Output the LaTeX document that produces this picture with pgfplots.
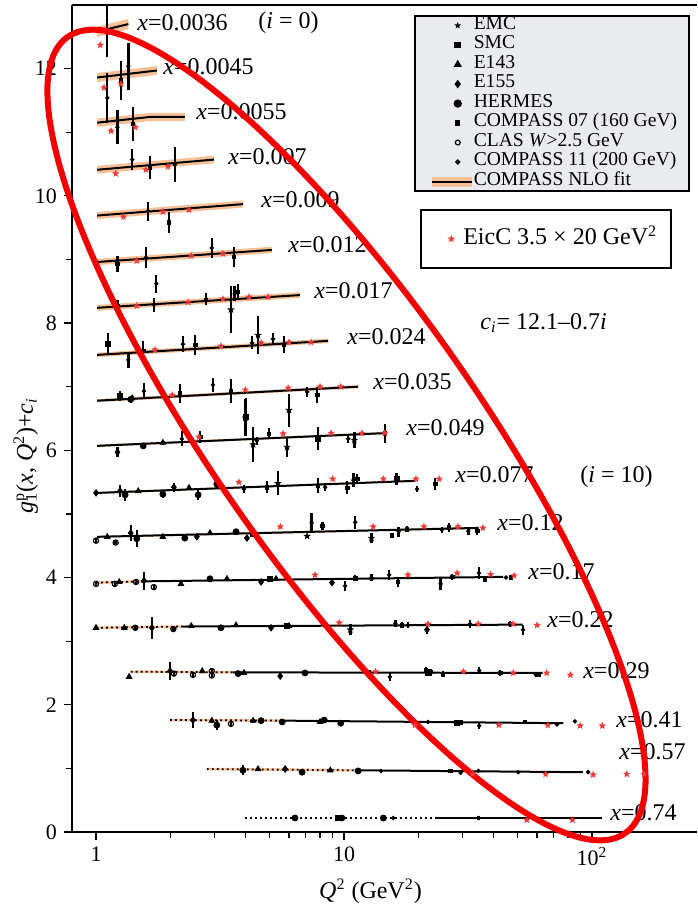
\documentclass[border=0pt]{standalone}
\usepackage{pgfplots}
\pgfplotsset{compat=1.18}
\usepackage{pgfplotstable}
\usepackage{fontspec}
\setmainfont{Liberation Serif}

\definecolor{bandor}{RGB}{247,192,150}
\definecolor{eicred}{RGB}{238,58,58}
\definecolor{leggray}{RGB}{234,235,239}
\definecolor{ellred}{RGB}{245,0,0}

\pgfdeclareplotmark{fstar}{%
 \pgfpathmoveto{\pgfpointpolar{90}{\pgfplotmarksize}}%
 \pgfpathlineto{\pgfpointpolar{126}{0.42\pgfplotmarksize}}%
 \pgfpathlineto{\pgfpointpolar{162}{\pgfplotmarksize}}%
 \pgfpathlineto{\pgfpointpolar{198}{0.42\pgfplotmarksize}}%
 \pgfpathlineto{\pgfpointpolar{234}{\pgfplotmarksize}}%
 \pgfpathlineto{\pgfpointpolar{270}{0.42\pgfplotmarksize}}%
 \pgfpathlineto{\pgfpointpolar{306}{\pgfplotmarksize}}%
 \pgfpathlineto{\pgfpointpolar{342}{0.42\pgfplotmarksize}}%
 \pgfpathlineto{\pgfpointpolar{18}{\pgfplotmarksize}}%
 \pgfpathlineto{\pgfpointpolar{54}{0.42\pgfplotmarksize}}%
 \pgfpathclose\pgfusepathqfill}

% COMPASS 11 (200 GeV)
\pgfplotstableread{
x y e
1.11 12.60 0.42
1.11 11.54 0.39
1.35 12.04 0.37
1.22 11.08 0.27
1.40 10.57 0.16
2.08 10.49 0.28
1.62 9.76 0.15
1.59 9.03 0.17
2.93 9.18 0.15
1.75 8.62 0.14
1.71 8.29 0.11
2.78 8.38 0.09
3.62 8.46 0.12
1.35 7.42 0.13
2.24 7.67 0.12
4.26 7.69 0.10
5.17 7.75 0.10
1.56 6.93 0.13
2.96 7.03 0.11
7.1 6.92 0.08
2.22 6.18 0.12
4.45 6.15 0.06
10.4 6.18 0.06
3.95 5.39 0.06
8.4 5.42 0.06
10.9 5.53 0.11
19.7 5.39 0.05
7.4 4.86 0.16
11.1 4.87 0.10
16.6 4.72 0.08
24.8 4.75 0.05
31.7 4.73 0.06
10.1 3.87 0.08
12.9 4.00 0.05
15.2 4.04 0.08
24.5 3.90 0.09
35.0 4.07 0.10
45.0 4.00 0.03
16.1 3.28 0.05
18.1 3.25 0.05
32.2 3.27 0.07
52.7 3.18 0.08
12.7 2.51 0.04
15.3 2.44 0.06
22.5 2.51 0.03
35.1 2.54 0.05
59.3 2.47 0.03
21.8 1.73 0.03
35.1 1.67 0.05
72.2 1.69 0.03
85.3 1.74 0.02
14.1 0.96 0.03
29.5 0.93 0.02
34.8 0.96 0.02
50.4 0.94 0.02
96.4 0.94 0.03
15.8 0.22 0.02
34.8 0.22 0.03
}\CXI

% COMPASS 07 (160 GeV)
\pgfplotstableread{
x y e
1.26 11.81 0.31
1.41 11.13 0.27
1.65 10.44 0.18
1.97 9.58 0.16
1.22 8.93 0.12
3.60 9.04 0.16
1.22 8.27 0.09
3.74 8.49 0.12
1.55 7.56 0.16
2.51 7.66 0.16
5.73 7.66 0.13
2.18 6.89 0.15
3.50 6.93 0.19
7.8 6.87 0.12
2.63 6.21 0.09
4.98 6.26 0.09
14.6 6.27 0.15
3.25 5.41 0.04
4.89 5.42 0.09
10.3 5.41 0.10
11.3 5.55 0.08
23.3 5.47 0.09
8.2 4.81 0.06
15.6 4.66 0.04
17.9 4.76 0.05
26.5 4.79 0.07
34.4 4.73 0.06
11.1 3.99 0.05
16.5 3.93 0.08
27.3 4.01 0.05
37.0 3.97 0.04
47.0 4.00 0.03
17.1 3.25 0.05
46.8 3.27 0.05
21.4 2.55 0.05
25.0 2.48 0.05
42.6 2.50 0.04
61.0 2.47 0.03
29.5 1.72 0.03
53.6 1.73 0.03
26.8 0.96 0.03
}\CVII

% EMC
\pgfplotstableread{
x y e
3.50 8.21 0.37
4.50 7.81 0.30
4.0 6.51 0.29
6.0 6.63 0.26
4.30 6.09 0.27
5.89 6.05 0.16
11.0 6.16 0.12
5.41 5.48 0.19
7.85 5.45 0.12
7.1 4.65 0.03
12.9 4.62 0.08
10.6 3.18 0.09
}\EMC

% SMC
\pgfplotstableread{
x y e
1.12 7.67 0.17
1.25 6.86 0.08
4.03 6.53 0.30
7.85 6.18 0.18
16.3 5.55 0.09
4.30 4.69 0.03
5.04 3.98 0.03
5.89 3.24 0.03
21.9 2.51 0.03
28.6 1.72 0.03
9.45 0.22 0.03
}\SMC

% E143
\pgfplotstableread{
x y e
1.40 6.82 0.04
1.86 6.12 0.04
1.48 5.36 0.03
2.37 5.41 0.03
1.11 4.64 0.03
1.86 4.64 0.03
2.88 4.70 0.03
1.24 3.93 0.03
2.20 3.90 0.03
3.37 3.98 0.03
5.32 3.98 0.03
1.00 3.21 0.03
1.30 3.21 0.03
2.42 3.24 0.03
3.67 3.25 0.03
6.00 3.24 0.03
1.36 2.44 0.03
2.68 2.53 0.03
3.95 2.50 0.03
2.93 1.75 0.03
4.30 1.75 0.03
8.0 1.73 0.03
4.50 0.99 0.03
8.8 0.97 0.03
}\Eonefourthree

% E155
\pgfplotstableread{
x y e
1.22 5.97 0.08
1.00 5.33 0.04
1.25 5.36 0.09
2.06 5.42 0.07
1.38 4.70 0.13
2.55 4.64 0.05
4.06 4.62 0.03
1.56 3.95 0.14
4.63 3.93 0.03
8.94 3.92 0.03
1.68 3.21 0.17
5.08 3.21 0.03
21.6 3.18 0.06
1.99 2.53 0.14
5.53 2.45 0.03
2.46 1.76 0.13
5.79 0.99 0.03
}\Eonefivefive

% HERMES
\pgfplotstableread{
x y e
1.38 6.80 0.05
1.55 6.07 0.05
1.31 5.30 0.09
1.86 5.31 0.06
2.58 5.30 0.08
3.07 5.47 0.06
1.46 4.61 0.13
2.28 4.62 0.05
3.67 4.72 0.04
2.88 3.98 0.04
3.19 3.21 0.04
3.74 2.49 0.04
6.96 2.50 0.04
3.07 1.68 0.08
4.63 1.75 0.04
5.63 1.73 0.04
8.32 1.76 0.04
9.7 1.71 0.04
3.91 0.97 0.08
6.77 0.94 0.04
11.4 0.96 0.04
6.34 0.22 0.03
9.8 0.22 0.03
14.4 0.22 0.03
}\HERMES

% CLAS W>2.5 GeV
\pgfplotstableread{
x y e
1.00 4.58 0.03
1.20 4.55 0.03
1.00 3.90 0.03
1.19 3.90 0.03
1.45 3.93 0.03
1.71 3.85 0.03
1.44 3.21 0.03
2.05 3.19 0.03
2.06 2.49 0.03
2.46 2.47 0.03
2.93 2.53 0.03
2.93 2.46 0.03
3.50 1.70 0.03
}\CLAS

% EicC pseudo-data
\pgfplotstableread{
x y
1.04 12.37
1.077 11.70
1.26 11.76
1.15 11.02
1.44 11.08
1.20 10.35
1.59 10.41
1.95 10.46
1.29 9.67
1.86 9.75
2.37 9.78
1.46 8.98
2.42 9.06
3.25 9.09
1.46 8.27
2.35 8.33
3.25 8.38
4.14 8.41
4.94 8.41
1.73 7.58
3.19 7.64
4.63 7.69
6.0 7.70
7.36 7.70
2.03 6.87
4.0 6.95
5.95 6.98
8.0 7.00
9.7 7.00
2.6 6.21
5.68 6.26
8.87 6.27
11.8 6.27
14.6 6.27
3.77 5.50
9.0 5.55
14.4 5.55
19.5 5.55
24.2 5.55
5.53 4.80
13.1 4.80
21.0 4.80
28.8 4.80
36.3 4.78
7.64 4.04
18.1 4.04
28.6 4.07
39.0 4.05
48.5 4.03
9.56 3.29
21.8 3.27
34.8 3.27
48.1 3.27
60.0 3.25
13.4 2.52
30.3 2.52
48.1 2.50
65.6 2.50
81.8 2.47
19.3 1.68
42.1 1.68
66.3 1.68
89.5 1.67
110 1.67
33.1 0.91
65.0 0.91
101 0.90
138 0.91
162 0.91
54.6 0.19
83.3 0.19
}\EicC

\pgfplotsset{
 dat/.style={only marks, black, forget plot,
   error bars/y dir=both, error bars/y explicit,
   error bars/error bar style={line width=1.2pt, black},
   error bars/error mark=none},
 band/.style={fill=bandor, draw=none, forget plot},
 fit/.style={black, line width=1pt, forget plot},
 dotor/.style={bandor, line width=1.3pt, forget plot},
 dotbk/.style={black, line width=0.9pt, dash pattern=on 0.9pt off 1.6pt, forget plot},
 eicimg/.style={legend image code/.code={\path[draw=none, fill=none] (0pt,0pt) -- (12pt,0pt); \draw[##1, only marks] plot coordinates {(8pt,0pt)};}},
}
\tikzset{lbl/.style={anchor=west, inner sep=0pt, font=\fontsize{12}{14}\selectfont}}

\begin{document}
\begin{tikzpicture}
\begin{axis}[name=ax, scale only axis, width=312.5pt, height=413.5pt,
  xmode=log, xmin=0.8, xmax=265, ymin=0, ymax=13,
  axis x line*=box, axis y line*=left,
  xtick pos=left, ytick pos=left, tick align=outside,
  xtick={1,10,100}, xticklabels={1,10,10\textsuperscript{2}},
  ytick={0,2,...,12}, minor y tick num=1,
  major tick length=4pt, minor tick length=3pt,
  axis line style={line width=1pt},
  every tick/.style={black, line width=0.6pt},
  /pgf/number format/assume math mode=true,
  tick label style={font=\fontsize{11}{13}\selectfont},
  xlabel={\textit{Q}\textsuperscript{2} (GeV\textsuperscript{2})},
  ylabel={\textit{g}\rlap{\textsuperscript{p}}\textsubscript{1}(\textit{x}, \textit{Q}\textsuperscript{2})+\textit{c}\textsubscript{\textit{i}}},
  label style={font=\fontsize{12}{14}\selectfont},
  xlabel style={xshift=-7pt},
  ylabel style={at={(axis description cs:-0.043,0.455)}, anchor=south},
  clip mode=individual,
  legend style={at={(0.989,0.988)}, anchor=north east, draw=black, line width=0.9pt,
    fill=leggray, inner xsep=6pt, inner ysep=0pt,
    font=\fontsize{9.8}{9.8}\selectfont,
    nodes={inner sep=0pt, text height=6.6pt, text depth=3.15pt},
    /tikz/every odd column/.append style={column sep=-5pt}},
  legend cell align=left,
]
% ---- NLO fit bands ----
\addplot[band] coordinates {(1.01,12.66) (1.35,12.78) (1.35,12.62) (1.01,12.50)} --cycle;
\addplot[band] coordinates {(1.01,11.93) (1.76,12.04) (1.76,11.90) (1.01,11.79)} --cycle;
\addplot[band] coordinates {(1.01,11.215) (1.65,11.305) (2.28,11.305) (2.28,11.175) (1.65,11.175) (1.01,11.085)} --cycle;
\addplot[band] coordinates {(1.01,10.47) (2.99,10.63) (2.99,10.51) (1.01,10.35)} --cycle;
\addplot[band] coordinates {(1.01,9.745) (3.92,9.925) (3.92,9.815) (1.01,9.635)} --cycle;
\addplot[band] coordinates {(1.01,9.01) (5.12,9.20) (5.12,9.10) (1.01,8.91)} --cycle;
\addplot[band] coordinates {(1.01,8.285) (6.64,8.485) (6.64,8.395) (1.01,8.195)} --cycle;
\addplot[band] coordinates {(1.01,7.535) (8.62,7.755) (8.62,7.685) (1.01,7.465)} --cycle;
\addplot[band] coordinates {(1.01,6.805) (11.4,7.025) (11.4,6.975) (1.01,6.755)} --cycle;
\addplot[band] coordinates {(1.01,6.088) (14.6,6.288) (14.6,6.252) (1.01,6.052)} --cycle;
\addplot[band] coordinates {(1.01,5.345) (19.4,5.535) (19.4,5.505) (1.01,5.315)} --cycle;
\addplot[band] coordinates {(1.01,4.655) (34.9,4.795) (34.9,4.765) (1.01,4.625)} --cycle;
% ---- NLO fit lines ----
\addplot[fit] coordinates {(1.01,12.58) (1.35,12.70)};
\addplot[fit] coordinates {(1.01,11.86) (1.76,11.97)};
\addplot[fit] coordinates {(1.01,11.15) (1.65,11.24) (2.28,11.24)};
\addplot[fit] coordinates {(1.01,10.41) (2.99,10.57)};
\addplot[fit] coordinates {(1.01,9.69) (3.92,9.87)};
\addplot[fit] coordinates {(1.01,8.96) (5.12,9.15)};
\addplot[fit] coordinates {(1.01,8.24) (6.64,8.44)};
\addplot[fit] coordinates {(1.01,7.50) (8.62,7.72)};
\addplot[fit] coordinates {(1.01,6.78) (11.4,7.00)};
\addplot[fit] coordinates {(1.01,6.07) (14.6,6.27)};
\addplot[fit] coordinates {(1.01,5.33) (19.4,5.52)};
\addplot[fit] coordinates {(1.01,4.64) (34.9,4.78)};
\addplot[dotor] coordinates {(1.0,3.92) (1.55,3.94)};
\addplot[dotbk] coordinates {(1.0,3.92) (1.55,3.94)};
\addplot[fit] coordinates {(1.55,3.94) (43.8,4.01)};
\addplot[dotor] coordinates {(1.0,3.21) (2.24,3.23)};
\addplot[dotbk] coordinates {(1.0,3.21) (2.24,3.23)};
\addplot[fit] coordinates {(2.24,3.23) (52.5,3.26)};
\addplot[dotor] coordinates {(1.38,2.52) (3.57,2.51)};
\addplot[dotbk] coordinates {(1.38,2.52) (3.57,2.51)};
\addplot[fit] coordinates {(3.57,2.51) (63.2,2.50)};
\addplot[dotor] coordinates {(1.99,1.76) (5.9,1.75)};
\addplot[dotbk] coordinates {(1.99,1.76) (5.9,1.75)};
\addplot[fit] coordinates {(5.9,1.75) (76.6,1.71)};
\addplot[dotor] coordinates {(2.80,0.99) (11.3,0.97)};
\addplot[dotbk] coordinates {(2.80,0.99) (11.3,0.97)};
\addplot[fit] coordinates {(11.3,0.97) (91.9,0.94)};
\addplot[dotbk] coordinates {(3.99,0.22) (23.6,0.22)};
\addplot[fit] coordinates {(23.6,0.22) (110,0.22)};
% ---- data ----
\addplot[dat, mark=*, mark size=0.9pt] table[x=x,y=y,y error=e] {\CXI};
\addplot[dat, mark=square*, mark size=0.9pt] table[x=x,y=y,y error=e] {\CVII};
\addplot[dat, mark=fstar, mark size=2pt] table[x=x,y=y,y error=e] {\EMC};
\addplot[dat, mark=square*, mark size=1.3pt] table[x=x,y=y,y error=e] {\SMC};
\addplot[dat, mark=triangle*, mark size=1.6pt] table[x=x,y=y,y error=e] {\Eonefourthree};
\addplot[dat, mark=diamond*, mark size=1.6pt] table[x=x,y=y,y error=e] {\Eonefivefive};
\addplot[dat, mark=*, mark size=1.5pt] table[x=x,y=y,y error=e] {\HERMES};
\addplot[dat, mark=o, mark size=1.3pt, mark options={line width=0.6pt}] table[x=x,y=y,y error=e] {\CLAS};
% ---- legend ----
\addlegendimage{legend image code/.code={\path[draw=none, fill=none] (0pt,0pt) -- (26pt,0pt); \path[draw=black, fill=black] plot[only marks, mark=fstar, mark size=1.8pt] coordinates {(13pt,0pt)};}}
\addlegendentry{EMC}
\addlegendimage{legend image code/.code={\path[draw=none, fill=none] (0pt,0pt) -- (26pt,0pt); \path[draw=black, fill=black] plot[only marks, mark=square*, mark size=1.2pt] coordinates {(13pt,0pt)};}}
\addlegendentry{SMC}
\addlegendimage{legend image code/.code={\path[draw=none, fill=none] (0pt,0pt) -- (26pt,0pt); \path[draw=black, fill=black] plot[only marks, mark=triangle*, mark size=1.5pt] coordinates {(13pt,0pt)};}}
\addlegendentry{E143}
\addlegendimage{legend image code/.code={\path[draw=none, fill=none] (0pt,0pt) -- (26pt,0pt); \path[draw=black, fill=black] plot[only marks, mark=diamond*, mark size=1.4pt] coordinates {(13pt,0pt)};}}
\addlegendentry{E155}
\addlegendimage{legend image code/.code={\path[draw=none, fill=none] (0pt,0pt) -- (26pt,0pt); \path[draw=black, fill=black] plot[only marks, mark=*, mark size=1.6pt] coordinates {(13pt,0pt)};}}
\addlegendentry{HERMES}
\addlegendimage{legend image code/.code={\path[draw=none, fill=none] (0pt,0pt) -- (26pt,0pt); \path[draw=black, fill=black] plot[only marks, mark=square*, mark size=0.9pt] coordinates {(13pt,0pt)};}}
\addlegendentry{COMPASS 07 (160 GeV)\hspace{6pt}}
\addlegendimage{legend image code/.code={\path[draw=none, fill=none] (0pt,0pt) -- (26pt,0pt); \path[draw=black, fill=none, line width=0.6pt] plot[only marks, mark=o, mark size=1.2pt] coordinates {(13pt,0pt)};}}
\addlegendentry{CLAS \textit{W}>2.5 GeV}
\addlegendimage{legend image code/.code={\path[draw=none, fill=none] (0pt,0pt) -- (26pt,0pt); \path[draw=black, fill=black] plot[only marks, mark=*, mark size=0.8pt] coordinates {(13pt,0pt)};}}
\addlegendentry{COMPASS 11 (200 GeV)}
\addlegendimage{legend image code/.code={\path[draw=none, fill=none] (0pt,0pt) -- (26pt,0pt); \draw[bandor, line width=5pt] (0pt,0pt) -- (20pt,0pt); \draw[black, line width=1pt] (0pt,0pt) -- (20pt,0pt);}}
\addlegendentry{COMPASS NLO fit}
% ---- labels ----
\node[lbl] at (axis cs:1.463,12.72) {\textit{x}=0.0036};
\node[lbl] at (axis cs:4.50,12.72) {(\textit{i} = 0)};
\node[lbl] at (axis cs:1.863,12.03) {\textit{x}=0.0045};
\node[lbl] at (axis cs:2.530,11.32) {\textit{x}=0.0055};
\node[lbl] at (axis cs:3.406,10.61) {\textit{x}=0.007};
\node[lbl] at (axis cs:4.628,9.94) {\textit{x}=0.009};
\node[lbl] at (axis cs:5.946,9.23) {\textit{x}=0.012};
\node[lbl] at (axis cs:7.568,8.51) {\textit{x}=0.017};
\node[lbl] at (axis cs:10.28,7.78) {\textit{x}=0.024};
\node[lbl] at (axis cs:13.09,7.08) {\textit{x}=0.035};
\node[lbl] at (axis cs:17.78,6.35) {\textit{x}=0.049};
\node[lbl] at (axis cs:28.03,5.61) {\textit{x}=0.077};
\node[lbl] at (axis cs:89.4,5.58) {(\textit{i} = 10)};
\node[lbl] at (axis cs:41.4,4.86) {\textit{x}=0.12};
\node[lbl] at (axis cs:55.2,4.09) {\textit{x}=0.17};
\node[lbl] at (axis cs:65.8,3.33) {\textit{x}=0.22};
\node[lbl] at (axis cs:91.9,2.53) {\textit{x}=0.29};
\node[lbl] at (axis cs:125.0,1.76) {\textit{x}=0.41};
\node[lbl] at (axis cs:128.5,1.26) {\textit{x}=0.57};
\node[lbl] at (axis cs:118.2,0.30) {\textit{x}=0.74};
\node[lbl] at (axis cs:35.35,8.00) {\textit{c}\textsubscript{\textit{i}}= 12.1–0.7\textit{i}};
\end{axis}

\begin{axis}[scale only axis, width=312.5pt, height=413.5pt,
  xmode=log, xmin=0.8, xmax=265, ymin=0, ymax=13, hide axis, clip=false,
  legend style={at={(0.96,0.7533)}, anchor=north east, draw=black, line width=0.9pt,
    fill=white, inner xsep=7pt, inner ysep=9pt,
    font=\fontsize{12}{14}\selectfont,
    nodes={inner sep=0pt, text height=8.5pt, text depth=2.5pt},
    /tikz/every odd column/.append style={column sep=2pt}},
]
\addplot[only marks, mark=fstar, mark size=2pt, color=eicred, eicimg] table[x=x,y=y] {\EicC};
\addlegendentry{EicC 3.5 × 20 GeV\textsuperscript{2}}
\draw[ellred, line width=3pt, rotate around={-55:(axis cs:10.23,6.24)}]
  (axis cs:10.23,6.24) ellipse [x radius=243pt, y radius=66pt];
\end{axis}
\pgfresetboundingbox
\path ([xshift=-36pt,yshift=-36pt]ax.south west) rectangle ([yshift=2.5pt]ax.north east);
\end{tikzpicture}
\end{document}
